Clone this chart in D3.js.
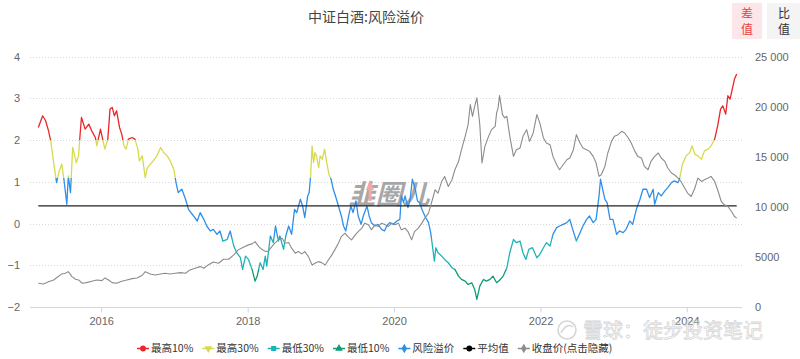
<!DOCTYPE html>
<html><head><meta charset="utf-8">
<script src="https://cdn.jsdelivr.net/npm/d3@7"></script>
<style>
body{margin:0;background:#fff;}
svg{display:block;font-family:"Liberation Sans","Noto Sans CJK SC",sans-serif;}
</style></head><body>
<svg id="chart" width="800" height="359"></svg>
<script>
// ---------- data (dates as decimal years) ----------
const premiumDates = [2015.14,2015.20,2015.24,2015.28,2015.31,2015.35,2015.39,2015.42,2015.46,2015.49,
2015.53,2015.55,2015.58,2015.61,2015.66,2015.69,2015.71,2015.73,2015.78,2015.83,
2015.87,2015.92,2015.94,2015.99,2016.01,2016.05,2016.09,2016.12,2016.15,2016.18,
2016.21,2016.25,2016.28,2016.31,2016.34,2016.37,2016.42,2016.46,2016.50,2016.52,
2016.56,2016.60,2016.63,2016.69,2016.76,2016.81,2016.85,2016.90,2016.94,2016.99,
2017.02,2017.05,2017.10,2017.15,2017.19,2017.26,2017.31,2017.35,2017.40,2017.44,
2017.49,2017.53,2017.58,2017.62,2017.66,2017.72,2017.76,2017.81,2017.85,2017.90,
2017.93,2017.97,2018.01,2018.06,2018.10,2018.13,2018.17,2018.21,2018.24,2018.26,
2018.31,2018.35,2018.38,2018.42,2018.44,2018.49,2018.52,2018.56,2018.60,2018.64,
2018.67,2018.72,2018.75,2018.78,2018.82,2018.84,2018.86,2018.88,2018.90,2018.92,
2018.94,2018.97,2018.99,2019.02,2019.05,2019.08,2019.11,2019.14,2019.17,2019.20,
2019.24,2019.28,2019.31,2019.34,2019.38,2019.41,2019.44,2019.48,2019.51,2019.55,
2019.58,2019.63,2019.66,2019.69,2019.74,2019.78,2019.83,2019.87,2019.90,2019.94,
2019.99,2020.04,2020.08,2020.10,2020.13,2020.15,2020.19,2020.22,2020.25,2020.29,
2020.32,2020.35,2020.38,2020.42,2020.47,2020.50,2020.53,2020.55,2020.57,2020.60,
2020.65,2020.69,2020.74,2020.79,2020.83,2020.88,2020.92,2020.97,2021.01,2021.06,
2021.10,2021.13,2021.17,2021.22,2021.26,2021.31,2021.35,2021.40,2021.44,2021.49,
2021.54,2021.58,2021.63,2021.67,2021.72,2021.76,2021.80,2021.84,2021.89,2021.95,
2021.99,2022.04,2022.08,2022.13,2022.17,2022.22,2022.26,2022.31,2022.36,2022.40,
2022.44,2022.49,2022.54,2022.58,2022.63,2022.67,2022.72,2022.76,2022.80,2022.82,
2022.85,2022.88,2022.91,2022.95,2022.99,2023.04,2023.08,2023.13,2023.17,2023.22,
2023.26,2023.31,2023.36,2023.40,2023.45,2023.49,2023.54,2023.56,2023.61,2023.65,
2023.70,2023.74,2023.79,2023.83,2023.88,2023.90,2023.94,2023.99,2024.04,2024.07,
2024.11,2024.15,2024.20,2024.24,2024.29,2024.33,2024.38,2024.42,2024.46,2024.49,
2024.53,2024.56,2024.59,2024.63,2024.65,2024.68];
const premiumValues = [2.30,2.58,2.46,2.22,1.98,1.46,0.98,1.22,1.42,1.06,
0.46,1.14,0.74,1.82,1.46,1.62,2.10,2.54,2.26,2.38,
2.22,2.06,1.86,2.26,2.10,1.78,2.02,2.74,2.78,2.58,
2.70,2.30,2.14,1.86,1.78,2.02,2.06,2.02,1.78,1.50,
1.62,1.10,1.34,1.46,1.62,1.82,1.70,1.62,1.50,1.30,
0.98,0.74,0.82,0.58,0.34,0.18,0.06,0.26,0.10,-0.06,
-0.18,-0.14,-0.26,-0.18,-0.42,-0.38,-0.18,-0.54,-0.70,-0.82,
-1.10,-0.78,-0.86,-1.10,-1.38,-1.26,-0.94,-1.10,-0.78,-1.02,
-0.30,-0.46,-0.06,-0.42,-0.30,-0.62,-0.30,-0.06,-0.26,0.34,
0.26,0.58,0.42,0.14,0.66,0.74,1.14,1.86,1.46,1.70,
1.62,1.34,1.62,1.54,1.78,1.46,1.18,1.06,0.82,0.66,
0.42,0.18,-0.06,-0.18,0.18,0.42,0.26,0.54,0.18,-0.02,
0.18,0.42,0.18,0.02,-0.06,-0.02,-0.14,-0.18,-0.06,0.02,
-0.02,0.06,0.10,0.66,0.50,0.66,0.38,0.58,1.06,0.82,
0.54,0.50,0.34,0.18,0.02,-0.22,-0.62,-0.90,-0.58,-0.70,
-0.78,-0.86,-0.94,-1.06,-1.10,-1.26,-1.34,-1.38,-1.46,-1.42,
-1.58,-1.82,-1.50,-1.34,-1.38,-1.34,-1.26,-1.42,-1.36,-1.26,
-1.06,-0.70,-0.38,-0.46,-0.42,-0.70,-0.86,-0.62,-0.58,-0.82,
-0.74,-0.58,-0.46,-0.54,-0.26,-0.10,-0.06,-0.02,0.02,0.10,
-0.14,-0.42,-0.22,-0.06,0.10,0.18,0.02,0.10,0.66,1.06,
0.82,0.58,0.50,0.10,0.10,-0.26,-0.18,-0.22,-0.14,0.06,
-0.02,0.34,0.58,0.82,0.82,0.62,0.82,0.46,0.74,0.66,
0.78,0.86,0.98,1.02,0.98,1.06,1.42,1.62,1.70,1.86,
1.66,1.62,1.54,1.74,1.78,1.86,2.02,2.34,2.74,2.82,
2.62,3.06,2.98,3.30,3.46,3.58];

const closeDates = [2015.14,2015.21,2015.28,2015.35,2015.40,2015.46,2015.51,2015.55,2015.60,2015.65,
2015.69,2015.74,2015.80,2015.87,2015.94,2016.01,2016.05,2016.10,2016.15,2016.21,
2016.28,2016.35,2016.42,2016.49,2016.56,2016.60,2016.67,2016.74,2016.81,2016.87,
2016.94,2017.01,2017.08,2017.15,2017.21,2017.28,2017.35,2017.40,2017.46,2017.53,
2017.60,2017.67,2017.74,2017.81,2017.87,2017.94,2018.01,2018.06,2018.10,2018.15,
2018.19,2018.24,2018.28,2018.33,2018.37,2018.42,2018.47,2018.51,2018.56,2018.60,
2018.65,2018.69,2018.74,2018.78,2018.83,2018.88,2018.92,2018.97,2019.01,2019.06,
2019.10,2019.15,2019.19,2019.24,2019.28,2019.33,2019.37,2019.42,2019.47,2019.51,
2019.56,2019.60,2019.65,2019.69,2019.74,2019.78,2019.83,2019.88,2019.92,2019.97,
2020.01,2020.06,2020.10,2020.15,2020.19,2020.24,2020.28,2020.33,2020.38,2020.42,
2020.47,2020.51,2020.56,2020.60,2020.65,2020.69,2020.74,2020.79,2020.83,2020.88,
2020.92,2020.97,2021.01,2021.04,2021.07,2021.10,2021.13,2021.17,2021.20,2021.24,
2021.29,2021.33,2021.38,2021.40,2021.42,2021.44,2021.48,2021.51,2021.54,2021.58,
2021.63,2021.67,2021.72,2021.76,2021.81,2021.85,2021.90,2021.95,2021.99,2022.04,
2022.08,2022.13,2022.17,2022.22,2022.26,2022.31,2022.36,2022.40,2022.45,2022.49,
2022.54,2022.58,2022.63,2022.67,2022.72,2022.76,2022.80,2022.83,2022.88,2022.92,
2022.97,2023.01,2023.06,2023.11,2023.15,2023.20,2023.24,2023.29,2023.33,2023.38,
2023.42,2023.47,2023.51,2023.56,2023.61,2023.65,2023.70,2023.74,2023.79,2023.83,
2023.88,2023.92,2023.97,2024.01,2024.06,2024.11,2024.15,2024.20,2024.24,2024.29,
2024.33,2024.38,2024.42,2024.47,2024.51,2024.56,2024.61,2024.65,2024.68];
const closeValues = [2370,2300,2530,2700,2970,3300,3370,3530,3030,2770,
2700,2370,2430,2570,2700,2630,2900,2700,2430,2370,
2570,2700,2830,2900,3170,3530,3300,3200,3300,3370,
3300,3370,3430,3370,3700,3870,4030,3870,4200,4500,
4370,4770,4770,5200,5700,5970,6200,6300,6530,6030,
5770,5550,5580,6030,6370,6700,6870,6370,6430,5870,
5370,5530,5300,5530,5030,4200,4370,4530,4430,4200,
4670,5200,5700,6370,7030,7370,7030,6700,7200,7530,
7870,8370,8200,7700,8200,8030,8370,8200,8030,8370,
8200,8370,7700,7870,7530,6700,7530,7870,8370,8870,
9370,10370,11700,11370,12530,13030,12030,12700,13700,14530,
15700,17030,18200,20200,19030,20030,20870,18200,14370,16030,
17030,17700,18030,19370,19870,21100,19200,18870,19030,17030,
15030,15700,15870,17030,17700,16530,17370,19200,18370,16870,
16370,16200,15030,14200,13700,14200,14700,14870,15700,17200,
16370,15870,15700,15530,15030,14370,13030,13200,14030,15370,
16530,17030,17200,17530,17370,16870,16370,15530,15030,14870,
14030,13700,14530,15030,15370,14870,14530,13870,13370,13200,
12870,12530,11870,11370,11030,11870,12870,12530,12700,12870,
13030,12530,11700,10530,10200,10030,9530,9030,8870];

const averageValue = 0.42;
const zoneLevels = [2.0, 1.1, -0.35, -1.1];           // boundaries, top to bottom
const leftTicks = [-2, -1, 0, 1, 2, 3, 4];
const rightTicks = [0, 5000, 10000, 15000, 20000, 25000];
const xTickYears = [2016, 2018, 2020, 2022, 2024];
const legendLabels = ["最高10%", "最高30%", "最低30%", "最低10%", "风险溢价", "平均值", "收盘价(点击隐藏)"];
const titleText = "中证白酒:风险溢价";

// ---------- styles ----------
const zoneColors = ["#e8262b", "#d6da4e", "#2f8fe8", "#1fb3b8", "#109b76"]; // top -> bottom
const legendColors = ["#e8262b", "#d6da4e", "#1fb3b8", "#109b76", "#2f8fe8", "#000000", "#8c8c8c"];
const closeColor = "#8c8c8c";

const svg = d3.select("#chart");
const toDate = t => { const y = Math.floor(t); const a = Date.UTC(y,0,1), b = Date.UTC(y+1,0,1); return new Date(a + (t - y) * (b - a)); };

const x = d3.scaleUtc()
  .domain([toDate(premiumDates[0]), toDate(premiumDates[premiumDates.length-1])])
  .range([38.3, 736.7]);
const yL = d3.scaleLinear().domain([-2, 4]).range([307, 56.5]);
const yR = d3.scaleLinear().domain([0, 25000]).range([307, 56.5]);

// grid lines (dotted)
svg.append("g").selectAll("line").data(leftTicks.filter(d => d !== -2)).join("line")
  .attr("x1", 30).attr("x2", 742)
  .attr("y1", d => Math.round(yL(d)) + 0.5).attr("y2", d => Math.round(yL(d)) + 0.5)
  .attr("stroke", "#d9d9d9").attr("stroke-dasharray", "1,2");
svg.append("line").attr("x1", 30).attr("x2", 742).attr("y1", 307.5).attr("y2", 307.5)
  .attr("stroke", "#ccd6eb");

// axes
const axisFont = "Liberation Sans, sans-serif";
const xAxis = d3.axisBottom(x).tickValues(xTickYears.map(yv => toDate(yv))).tickFormat(d3.utcFormat("%Y")).tickSize(5).tickPadding(5);
const gx = svg.append("g").attr("transform", "translate(0,307.5)").call(xAxis);
gx.select(".domain").remove();
gx.selectAll(".tick line").attr("stroke", "#ccd6eb");
gx.selectAll(".tick text").attr("fill", "#666").attr("font-size", 11).attr("font-family", axisFont);

const gyl = svg.append("g").attr("transform", "translate(30,0)")
  .call(d3.axisLeft(yL).tickValues(leftTicks).tickFormat(d3.format("d")).tickSize(0).tickPadding(10));
gyl.select(".domain").remove();
gyl.selectAll(".tick text").attr("fill", "#666").attr("font-size", 11).attr("font-family", axisFont);

const fmtR = v => v >= 10000 ? d3.format(",")(v).replace(/,/g, " ") : String(v);
const gyr = svg.append("g").attr("transform", "translate(742,0)")
  .call(d3.axisRight(yR).tickValues(rightTicks).tickFormat(fmtR).tickSize(0).tickPadding(13));
gyr.select(".domain").remove();
gyr.selectAll(".tick text").attr("fill", "#666").attr("font-size", 11).attr("font-family", axisFont);

// zone gradient (color by value)
const defs = svg.append("defs");
const grad = defs.append("linearGradient").attr("id", "zones")
  .attr("gradientUnits", "userSpaceOnUse")
  .attr("x1", 0).attr("x2", 0).attr("y1", yL(4)).attr("y2", yL(-2));
const off = v => (yL(v) - yL(4)) / (yL(-2) - yL(4));
let stops = [{o: 0, c: zoneColors[0]}];
zoneLevels.forEach((lv, i) => { stops.push({o: off(lv), c: zoneColors[i]}); stops.push({o: off(lv), c: zoneColors[i+1]}); });
stops.push({o: 1, c: zoneColors[zoneColors.length-1]});
grad.selectAll("stop").data(stops).join("stop").attr("offset", d => d.o).attr("stop-color", d => d.c);

// watermark logo
const wm = svg.append("g").attr("opacity", 0.75);
wm.append("text").attr("x", 389).attr("y", 204).attr("text-anchor", "middle")
  .attr("font-size", 27).attr("font-weight", "bold").attr("font-style", "italic")
  .attr("fill", "#8a8a8a").attr("font-family", "Noto Sans CJK SC, sans-serif").text("韭圈儿");
wm.append("path").attr("d", "M366,190 L370,180 L374,190 L371.5,190 L371.5,201 L368.5,201 L368.5,190 Z").attr("fill", "#f08a8a");

// lines
const premiumData = premiumDates.map((t, i) => ({d: toDate(t), v: premiumValues[i]}));
const closeData = closeDates.map((t, i) => ({d: toDate(t), v: closeValues[i]}));
svg.append("path").datum(premiumData)
  .attr("d", d3.line().x(p => x(p.d)).y(p => yL(p.v)))
  .attr("fill", "none").attr("stroke", "url(#zones)").attr("stroke-width", 1.3).attr("stroke-linejoin", "round");
svg.append("line").attr("x1", x.range()[0]).attr("x2", x.range()[1])
  .attr("y1", yL(averageValue)).attr("y2", yL(averageValue))
  .attr("stroke", "#222").attr("stroke-width", 1.2);
svg.append("path").datum(closeData)
  .attr("d", d3.line().x(p => x(p.d)).y(p => yR(p.v)))
  .attr("fill", "none").attr("stroke", closeColor).attr("stroke-width", 1.1).attr("stroke-linejoin", "round");

// title
svg.append("text").attr("x", 366).attr("y", 22).attr("text-anchor", "middle")
  .attr("font-size", 14).attr("fill", "#444").attr("font-family", "Noto Sans CJK SC, sans-serif").text(titleText);

// buttons
svg.append("rect").attr("x", 732).attr("y", 3).attr("width", 30).attr("height", 36).attr("fill", "#fde6e9");
svg.append("rect").attr("x", 767).attr("y", 3).attr("width", 33).attr("height", 36).attr("fill", "#f4f4f4");
[["差", 747, "#e8413c"], ["比", 784, "#333"]].forEach(([t, cx, col]) => {
  svg.append("text").attr("x", cx).attr("y", 18).attr("text-anchor", "middle").attr("font-size", 12).attr("fill", col)
    .attr("font-family", "Noto Sans CJK SC, sans-serif").text(t);
  svg.append("text").attr("x", cx).attr("y", 34).attr("text-anchor", "middle").attr("font-size", 12).attr("fill", col)
    .attr("font-family", "Noto Sans CJK SC, sans-serif").text("值");
});

// xueqiu watermark
const xq = svg.append("g").attr("opacity", 0.6);
xq.append("circle").attr("cx", 567).attr("cy", 330).attr("r", 9).attr("fill", "none").attr("stroke", "#bbb").attr("stroke-width", 1.5);
xq.append("path").attr("d", "M561,333 Q567,322 573,327").attr("fill", "none").attr("stroke", "#bbb").attr("stroke-width", 1.5);
xq.append("text").attr("x", 583).attr("y", 338).attr("font-size", 20).attr("fill", "#fff").attr("stroke", "#bdbdbd").attr("stroke-width", 0.8)
  .attr("font-family", "Noto Sans CJK SC, sans-serif").text("雪球：徒步投资笔记");

// legend
const symbols = [d3.symbolCircle, "tdown", d3.symbolSquare, d3.symbolTriangle, d3.symbolDiamond, d3.symbolCircle, d3.symbolDiamond];
const lg = svg.append("g");
let cx = 137;
legendLabels.forEach((lab, i) => {
  const g = lg.append("g");
  g.append("line").attr("x1", cx).attr("x2", cx + 12).attr("y1", 348.5).attr("y2", 348.5).attr("stroke", legendColors[i]).attr("stroke-width", 1.5);
  const s = symbols[i];
  const path = s === "tdown" ? d3.symbol(d3.symbolTriangle, 26)() : d3.symbol(s, 26)();
  g.append("path").attr("d", path).attr("fill", legendColors[i])
    .attr("transform", `translate(${cx + 6},348.5)` + (s === "tdown" ? " rotate(180)" : ""));
  const t = g.append("text").attr("x", cx + 14).attr("y", 352.3).attr("font-size", 10.5).attr("fill", "#333")
    .attr("font-family", "Noto Sans CJK SC, sans-serif").text(lab);
  cx += 14 + t.node().getComputedTextLength() + 9;
});
</script>
</body></html>
